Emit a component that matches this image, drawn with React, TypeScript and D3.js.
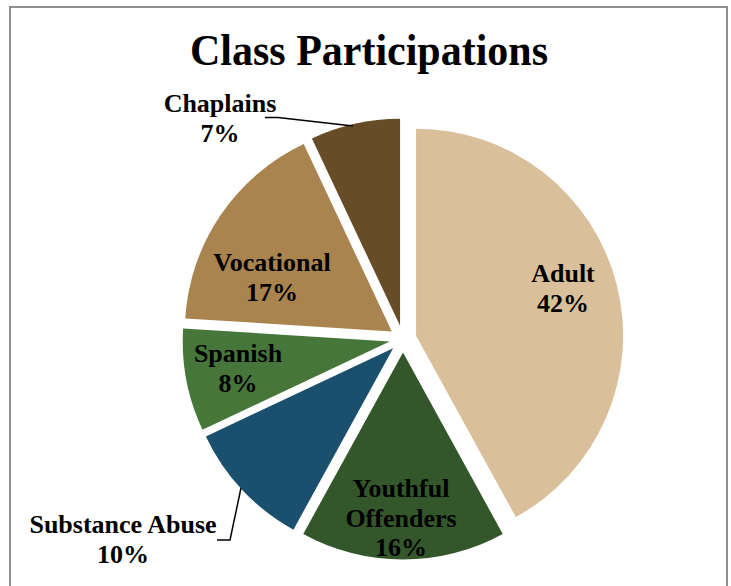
import React from "react";
import * as d3 from "d3";

const categories = ["Adult", "Youthful Offenders", "Substance Abuse", "Spanish", "Vocational", "Chaplains"];
const values = [42, 16, 10, 8, 17, 7];
const colors = ["#D9BF9A", "#33572B", "#1A4F6E", "#46763A", "#A9844F", "#664D27"];
const labelLines = [["Adult", "42%"], ["Youthful", "Offenders", "16%"], ["Substance Abuse", "10%"], ["Spanish", "8%"], ["Vocational", "17%"], ["Chaplains", "7%"]];

// label layout (annotation positions)
const labelPos: [number, number][] = [[563, 282], [401, 497], [123, 533], [238, 362], [272, 271], [220, 112]];

const W = 731, H = 586;
const CX = 403, CY = 339, R = 207, EXPLODE = 13.5;
const FONT = "'Liberation Serif', 'Times New Roman', serif";

export default function App() {
  const pie = d3.pie<number>().sort(null).value((v) => v).startAngle(0).endAngle(2 * Math.PI);
  const arcs = pie(values);
  const arcGen = d3.arc<d3.PieArcDatum<number>>().innerRadius(0).outerRadius(R);

  return (
    <svg width={W} height={H} style={{ position: "absolute", left: 0, top: 0, background: "#fff" }}>
      <rect x={10} y={7} width={717} height={620} fill="#fff" stroke="#8f8f8f" strokeWidth={2} />
      <text x={369} y={65} textAnchor="middle" fontFamily={FONT} fontWeight="bold" fontSize={44} textLength={358} lengthAdjust="spacingAndGlyphs" fill="#000">
        Class Participations
      </text>
      <g transform={`translate(${CX},${CY})`}>
        {arcs.map((a, i) => {
          const mid = (a.startAngle + a.endAngle) / 2;
          const dx = EXPLODE * Math.sin(mid);
          const dy = -EXPLODE * Math.cos(mid);
          return (
            <path key={categories[i]} d={arcGen(a) || ""} fill={colors[i]} transform={`translate(${dx},${dy})`} />
          );
        })}
      </g>
      {/* leader lines */}
      <polyline points="265,117.5 278,117.5 353,126" fill="none" stroke="#000" strokeWidth={1.5} />
      <polyline points="217,540 230,540 241,488" fill="none" stroke="#000" strokeWidth={1.5} />
      {labelLines.map((lines, i) => (
        <text key={categories[i]} textAnchor="middle" fontFamily={FONT} fontWeight="bold" fontSize={26} fill="#000">
          {lines.map((ln, j) => (
            <tspan key={j} x={labelPos[i][0]} y={labelPos[i][1] + j * 29.5}>{ln}</tspan>
          ))}
        </text>
      ))}
    </svg>
  );
}
